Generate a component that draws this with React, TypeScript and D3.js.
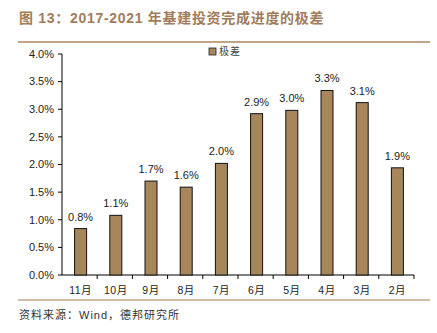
import React from "react";
import * as d3 from "d3";

const categories = ["11月", "10月", "9月", "8月", "7月", "6月", "5月", "4月", "3月", "2月"];
const values = [0.84, 1.08, 1.7, 1.59, 2.02, 2.92, 2.98, 3.34, 3.12, 1.94];
const yTicks = [0, 0.5, 1, 1.5, 2, 2.5, 3, 3.5, 4];
const seriesName = "极差";
const title = "图 13：2017-2021 年基建投资完成进度的极差";
const source = "资料来源：Wind，德邦研究所";

export default function App() {
  const W = 437, H = 333;
  const x0 = 62, x1 = 414, yTop = 54, yBot = 275;
  const x = d3.scaleBand<string>().domain(categories).range([x0, x1]);
  const y = d3.scaleLinear().domain([0, 4]).range([yBot, yTop]);
  const fmt = d3.format(".1f");
  const barW = 12;
  const font = "'Liberation Sans', Arial, sans-serif";
  const cjk = "'Noto Sans CJK SC', sans-serif";
  return (
    <svg width={W} height={H} style={{ position: "absolute", left: 0, top: 0, background: "#fff" }}>
      <text x={19} y={23} fontFamily={`${font}, ${cjk}`} fontWeight="bold" fontSize={14} fill="#a17c5c" letterSpacing={0.7}>{title}</text>
      <line x1={18} x2={430} y1={42} y2={42} stroke="#c3a585" strokeWidth={2} />
      {/* legend */}
      <rect x={209} y={48} width={7} height={7} fill="#a8865c" stroke="#222" strokeWidth={0.8} />
      <text x={219} y={55} fontFamily={cjk} fontSize={10} fill="#444" letterSpacing={1}>{seriesName}</text>
      {/* y axis */}
      <line x1={x0} x2={x0} y1={yTop} y2={yBot} stroke="#000" strokeWidth={1} />
      {yTicks.map((t) => (
        <g key={t}>
          <line x1={x0 - 4} x2={x0} y1={y(t)} y2={y(t)} stroke="#000" />
          <text x={x0 - 8} y={y(t)} dy="0.35em" textAnchor="end" fontFamily={font} fontSize={11} fill="#222">{fmt(t) + "%"}</text>
        </g>
      ))}
      {/* x axis */}
      <line x1={x0} x2={x1} y1={yBot} y2={yBot} stroke="#000" />
      {categories.map((c, i) => (
        <line key={"t" + c} x1={x0 + x.step() * (i + 1)} x2={x0 + x.step() * (i + 1)} y1={yBot} y2={yBot + 4} stroke="#000" />
      ))}
      {categories.map((c, i) => {
        const cx = (x(c) as number) + x.bandwidth() / 2 + 1;
        return (
          <g key={c}>
            <rect x={cx - barW / 2} y={y(values[i])} width={barW} height={yBot - y(values[i])} fill="#a8865c" stroke="#111" strokeWidth={1} />
            <text x={cx} y={y(values[i]) - 8} textAnchor="middle" fontFamily={font} fontSize={11} fill="#222">{fmt(values[i]) + "%"}</text>
            <text x={cx} y={294} textAnchor="middle" fontFamily={`${font}, ${cjk}`} fontSize={10.5} fill="#222" letterSpacing={0.5}>{c}</text>
          </g>
        );
      })}
      <line x1={18} x2={430} y1={300} y2={300} stroke="#c3a585" strokeWidth={1.5} />
      <text x={19} y={319} fontFamily={`${font}, ${cjk}`} fontSize={11} fill="#333" letterSpacing={1}>{source}</text>
    </svg>
  );
}
